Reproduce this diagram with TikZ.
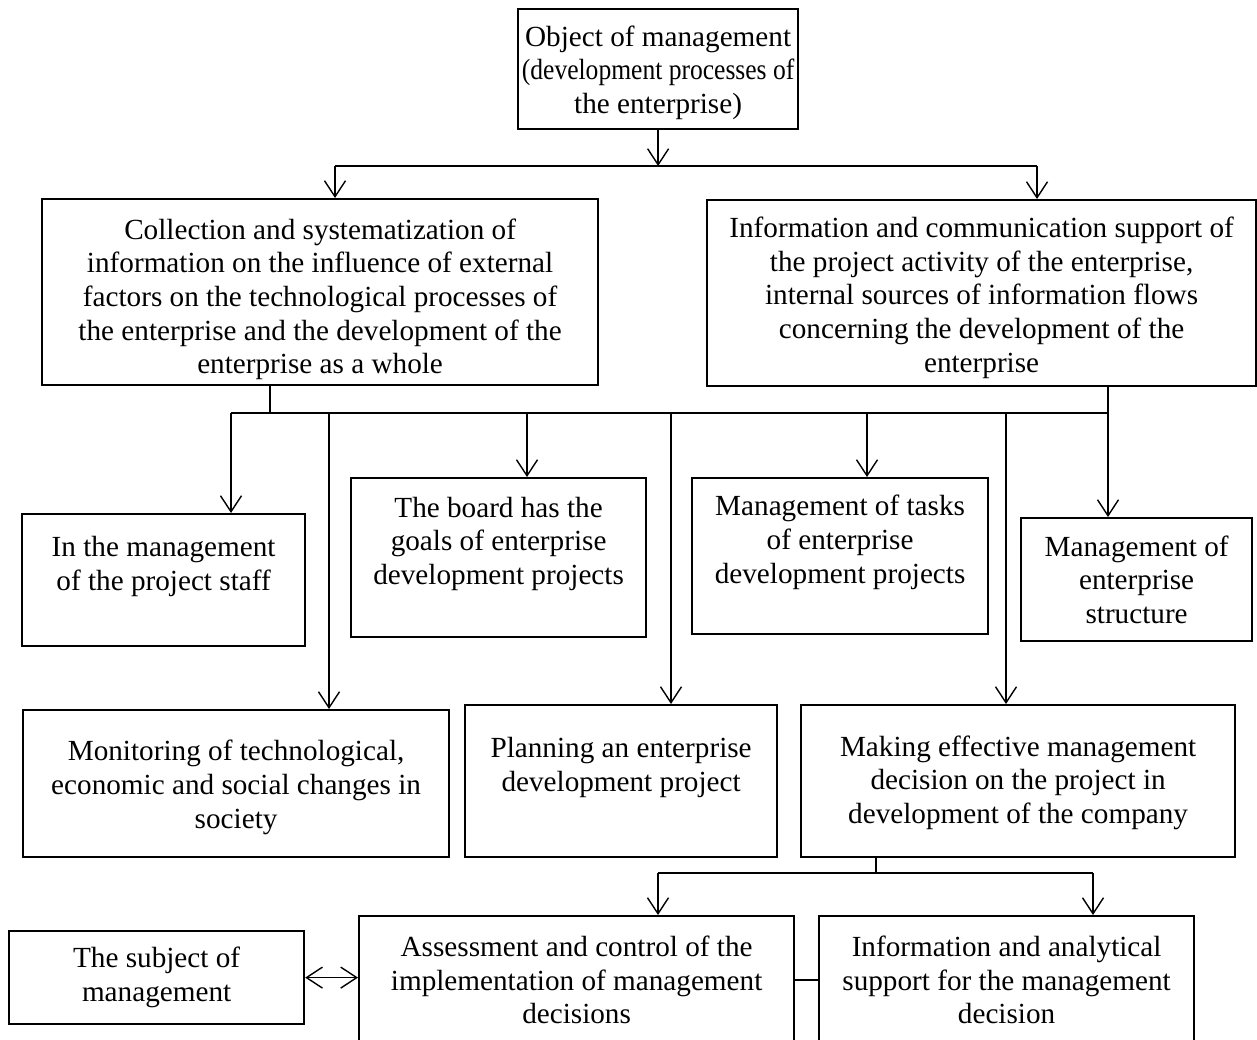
\documentclass[tikz,border=0pt]{standalone}
\usepackage{fontspec}
\usepackage{graphicx}
\setmainfont{Liberation Serif}
\usetikzlibrary{arrows.meta}
\tikzstyle{chart} = [x = 1pt, y = -1pt, font=\fontsize{29.2}{33.6}\selectfont]
\tikzstyle{boxStyle} = [draw, line width = 2.2pt, align = center, inner sep = 0pt, anchor = north west]
\tikzstyle{linkLine} = [line width = 1.4pt]
\tikzstyle{linkArrow} = [linkLine, -{Straight Barb[length = 16pt, width = 21pt, line width = 1.4pt]}]
\tikzstyle{bothArrow} = [linkLine, {Straight Barb[length = 16pt, width = 21pt, line width = 1.4pt]}-{Straight Barb[length = 16pt, width = 21pt, line width = 1.4pt]}]
\newcommand{\mgmtBox}[6]{\node [boxStyle, minimum width = #4pt, minimum height = #5pt] (#1) at (#2,#3) {#6};}
\newcommand{\dropText}[1]{\rule{0pt}{#1pt}}
\newcommand{\busY}{413}
\begin{document}
\begin{tikzpicture}[chart]
  \useasboundingbox (0,0) rectangle (1257,1039);
  % boxes
  \mgmtBox{obj}{517}{8}{280}{120}{\dropText{28}Object of management\\\scalebox{0.875}[1]{(development processes of}\\the enterprise)}
  \mgmtBox{coll}{41}{198}{556}{186}{\dropText{35}Collection and systematization of\\information on the influence of external\\factors on the technological processes of\\the enterprise and the development of the\\enterprise as a whole}
  \mgmtBox{info}{706}{199}{549}{186}{\dropText{30}Information and communication support of\\the project activity of the enterprise,\\internal sources of information flows\\concerning the development of the\\enterprise}
  \mgmtBox{staff}{21}{513}{283}{132}{In the management\\of the project staff\\\mbox{}}
  \mgmtBox{board}{350}{477}{295}{159}{The board has the\\goals of enterprise\\development projects\\\mbox{}}
  \mgmtBox{tasks}{691}{477}{296}{156}{Management of tasks\\of enterprise\\development projects\\\mbox{}}
  \mgmtBox{struct}{1020}{517}{231}{123}{Management of\\enterprise\\structure}
  \mgmtBox{monit}{22}{709}{426}{147}{\dropText{28}Monitoring of technological,\\economic and social changes in\\society}
  \mgmtBox{plan}{464}{704}{312}{152}{Planning an enterprise\\development project\\\mbox{}}
  \mgmtBox{making}{800}{704}{434}{152}{\dropText{24}Making effective management\\decision on the project in\\development of the company}
  \mgmtBox{subj}{8}{930}{295}{93}{The subject of\\management}
  \mgmtBox{assess}{358}{915}{435}{128}{Assessment and control of the\\implementation of management\\decisions}
  \mgmtBox{analyt}{818}{915}{375}{128}{Information and analytical\\support for the management\\decision}

  % top bus
  \coordinate (busTopL) at (335,166);
  \coordinate (busTopR) at (1037,166);
  \draw [linkArrow] (obj.south) -- (obj.south |- busTopL);
  \draw [linkLine] (busTopL) -- (busTopR);
  \draw [linkArrow] (busTopL) -- (busTopL |- coll.north);
  \draw [linkArrow] (busTopR) -- (busTopR |- info.north);

  % middle bus
  \coordinate (busMidL) at (231,\busY);
  \coordinate (busMidR) at (1108,\busY);
  \coordinate (collDrop) at (270,\busY);
  \draw [linkLine] (collDrop |- coll.south) -- (collDrop);
  \draw [linkLine] (busMidL) -- (busMidR);
  \draw [linkArrow] (busMidR |- info.south) -- (busMidR |- struct.north);
  \foreach \dropX/\target in {231/staff, 329/monit, 527/board, 671/plan, 867/tasks, 1006/making} {
    \coordinate (drop) at (\dropX,\busY);
    \draw [linkArrow] (drop) -- (drop |- \target.north);
  }

  % lower bus
  \coordinate (busLowL) at (658,873);
  \coordinate (busLowR) at (1093,873);
  \coordinate (makingDrop) at (876,873);
  \draw [linkLine] (makingDrop |- making.south) -- (makingDrop);
  \draw [linkLine] (busLowL) -- (busLowR);
  \draw [linkArrow] (busLowL) -- (busLowL |- assess.north);
  \draw [linkArrow] (busLowR) -- (busLowR |- analyt.north);
  \draw [linkLine] (assess.east) -- (analyt.west);
  \draw [bothArrow] (subj.east) -- (subj.east -| assess.west);
\end{tikzpicture}
\end{document}
